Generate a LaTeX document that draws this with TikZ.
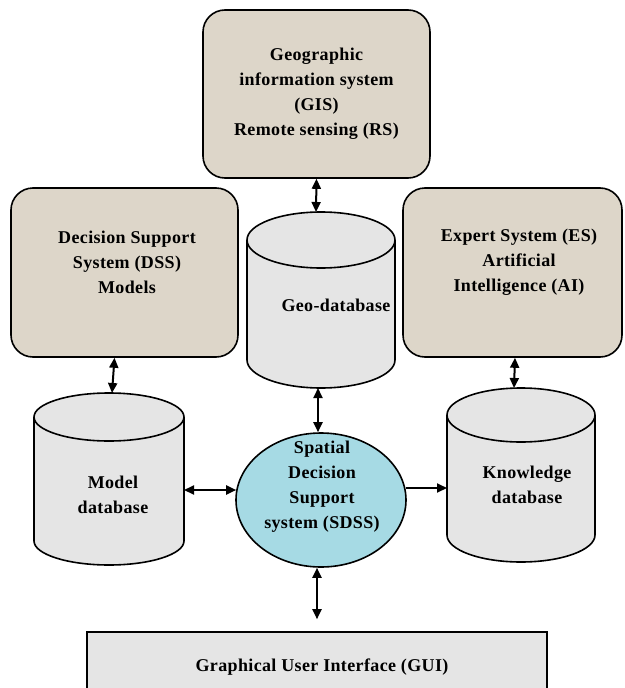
\documentclass[tikz,border=0pt]{standalone}
\usepackage{fontspec}
\setmainfont[LetterSpace=2]{Liberation Serif}
\usetikzlibrary{shapes.geometric,arrows.meta}
\definecolor{papyrus}{RGB}{221,214,201}
\definecolor{marble}{RGB}{229,229,229}
\definecolor{aqua}{RGB}{166,218,228}
\tikzset{
  txt/.style={font=\bfseries\fontsize{18}{25}\selectfont, align=center, inner sep=0pt},
  rbox/.style={draw=black, line width=1.6pt, fill=papyrus, rounded corners=22pt, inner sep=0pt},
  dbfill/.style={draw=black, line width=1.6pt, fill=marble},
  frame/.style={inner sep=0pt, outer sep=0pt},
  conn/.style={line width=2pt, {Triangle[length=10pt,width=9pt]}-{Triangle[length=10pt,width=9pt]}},
  conn1/.style={line width=2pt, -{Triangle[length=10pt,width=9pt]}},
}
% cx, top, bottom, rx, ry
\newcommand\cylshape[5]{%
  \path[dbfill] ({#1-#4},{#2+#5}) -- ({#1-#4},{#3-#5})
    arc[start angle=180,end angle=360,x radius=#4pt,y radius=#5pt]
    -- ({#1+#4},{#2+#5})
    arc[start angle=0,end angle=180,x radius=#4pt,y radius=#5pt] -- cycle;
  \draw[line width=1.6pt] ({#1-#4},{#2+#5})
    arc[start angle=180,end angle=360,x radius=#4pt,y radius=#5pt];
}
\begin{document}
\begin{tikzpicture}[x=1pt,y=-1pt]
\useasboundingbox (0,0) rectangle (624,688);
\clip (0,0) rectangle (624,688);

% rounded boxes
\node[rbox, minimum width=227pt, minimum height=168pt] (gis) at (316.5,94) {};
\node[txt] (gist) at (316.5,94) {Geographic\\information system\\(GIS)\\Remote sensing (RS)};

\node[rbox, minimum width=227pt, minimum height=169pt] (dss) at (124.5,272.5) {};
\node[txt] (dsst) at (127,262) {Decision Support\\System (DSS)\\Models};

\node[rbox, minimum width=219pt, minimum height=169pt] (es) at (512.5,272.5) {};
\node[txt] (est) at (519,262) {Expert System (ES)\\Artificial\\Intelligence (AI)};

% cylinders
\cylshape{321}{212}{388}{74}{28}
\node[frame, minimum width=148pt, minimum height=176pt] (geo) at (321,300) {};
\node[txt] (geot) at (336,305) {Geo-database};

\cylshape{109}{393}{565}{75}{24}
\node[frame, minimum width=150pt, minimum height=172pt] (model) at (109,479) {};
\node[txt] (modelt) at (113,495) {Model\\database};

\cylshape{521}{388}{562}{74}{27}
\node[frame, minimum width=148pt, minimum height=174pt] (know) at (521,475) {};
\node[txt] (knowt) at (527,485) {Knowledge\\database};

% SDSS ellipse
\node[ellipse, draw=black, line width=1.6pt, fill=aqua, minimum width=170pt, minimum height=134pt, inner sep=0pt] (sdss) at (321,500) {};
\node[txt] (sdsst) at (322,487) {Spatial\\Decision\\Support\\system (SDSS)};

% GUI box
\node[draw=black, line width=1.6pt, fill=marble, minimum width=460pt, minimum height=70pt, inner sep=0pt] (gui) at (317,667) {};
\node[txt] (guit) at (322,667) {Graphical User Interface (GUI)};

% connectors
\draw[conn] (gis.south) -- ([xshift=-5pt]geo.north);
\draw[conn] ([xshift=-10pt]dss.south) -- ([xshift=3pt]model.north);
\draw[conn] ([xshift=2.5pt]es.south) -- ([xshift=-7pt]know.north);
\draw[conn] ([xshift=-3pt]geo.south) -- ([xshift=-3pt]sdss.north);
\draw[conn] ([yshift=-11pt]model.east) -- ([yshift=10pt,xshift=1pt]sdss.west);
\draw[conn1] ([yshift=12pt,xshift=-1pt]sdss.east) -- ([yshift=-13pt]know.west);
\draw[conn, shorten >=12pt] ([xshift=-4pt]sdss.south) -- (gui.north);
\end{tikzpicture}
\end{document}
